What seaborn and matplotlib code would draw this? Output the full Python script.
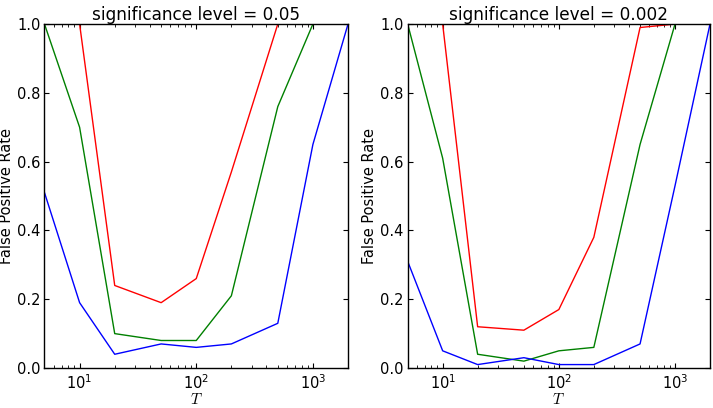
import matplotlib
matplotlib.use("Agg")
import matplotlib.pyplot as plt
import numpy as np
import pandas as pd
import seaborn as sns

# ── Data ──────────────────────────────────────────────────────────────────────
T_VALUES = [5, 10, 20, 50, 100, 200, 500, 1000, 2000]

# significance level = 0.05
RED_005   = [1.00, 1.00, 0.24, 0.19, 0.26, 0.57, 1.00, 1.00, 1.00]
GREEN_005 = [1.00, 0.70, 0.10, 0.08, 0.08, 0.21, 0.76, 1.00, 1.00]
BLUE_005  = [0.51, 0.19, 0.04, 0.07, 0.06, 0.07, 0.13, 0.65, 1.00]

# significance level = 0.002
RED_0002   = [1.00, 1.00, 0.12, 0.11, 0.17, 0.38, 0.99, 1.00, 1.00]
GREEN_0002 = [1.00, 0.61, 0.04, 0.02, 0.05, 0.06, 0.65, 1.00, 1.00]
BLUE_0002  = [0.31, 0.05, 0.01, 0.03, 0.01, 0.01, 0.07, 0.53, 1.00]

LEVELS = ["0.05", "0.002"]
SERIES = ["red", "green", "blue"]
PALETTE = {"red": "#ff0000", "green": "#008000", "blue": "#0000ff"}
Y_TICKS = [0.0, 0.2, 0.4, 0.6, 0.8, 1.0]


def long_frame(red, green, blue):
    rows = []
    for name, vals in zip(SERIES, [red, green, blue]):
        for t, v in zip(T_VALUES, vals):
            rows.append({"T": t, "rate": v, "series": name})
    return pd.DataFrame(rows)


frames = {
    "0.05": long_frame(RED_005, GREEN_005, BLUE_005),
    "0.002": long_frame(RED_0002, GREEN_0002, BLUE_0002),
}

# ── Style (classic matplotlib look) ───────────────────────────────────────────
sns.set_style("ticks")
plt.rcParams.update({
    "font.family": ["DejaVu Sans"],
    "mathtext.fontset": "cm",
    "text.color": "black",
    "axes.labelcolor": "black",
    "xtick.labelcolor": "black",
    "ytick.labelcolor": "black",
    "xtick.direction": "in",
    "ytick.direction": "in",
    "xtick.top": True,
    "ytick.right": True,
    "xtick.major.size": 3.8,
    "ytick.major.size": 3.8,
    "xtick.minor.size": 1.9,
    "ytick.minor.size": 1.9,
    "xtick.major.pad": 4,
    "ytick.major.pad": 3,
    "xtick.color": "black",
    "ytick.color": "black",
    "axes.edgecolor": "black",
    "axes.linewidth": 1.0,
})

fig = plt.figure(figsize=(7.13, 4.08), dpi=100)
ax_left = fig.add_axes([0.0624, 0.098, 0.4257, 0.843])
ax_right = fig.add_axes([0.5718, 0.098, 0.4240, 0.843])

for ax, level in zip([ax_left, ax_right], LEVELS):
    sns.lineplot(
        data=frames[level], x="T", y="rate", hue="series",
        hue_order=SERIES, palette=PALETTE, ax=ax,
        legend=False, linewidth=1.0, estimator=None, sort=False,
    )
    ax.set_xscale("log")
    ax.set_xlim(5, 2000)
    ax.set_ylim(0, 1)
    ax.set_yticks(Y_TICKS)
    ax.set_yticklabels([f"{v:.1f}" for v in Y_TICKS])
    ax.tick_params(axis="both", which="both", labelsize=10.5)
    ax.set_xlabel("$T$", fontsize=11, labelpad=0)
    ax.set_ylabel("False Positive Rate", fontsize=10.5, labelpad=2)
    ax.set_title(f"significance level = {level}", fontsize=12.2, pad=3,
                 color="black")
    for spine in ax.spines.values():
        spine.set_visible(True)

fig.savefig("out.png", dpi=100)
plt.close(fig)
